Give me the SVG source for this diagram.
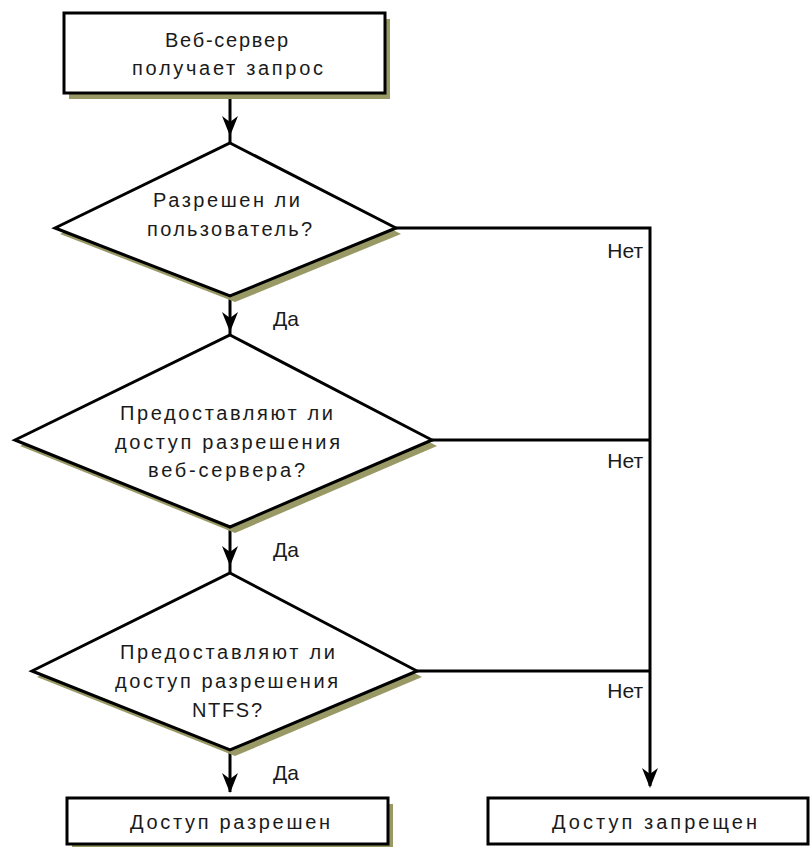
<svg xmlns="http://www.w3.org/2000/svg" xmlns:xlink="http://www.w3.org/1999/xlink" width="810" height="847" viewBox="0 0 810 847">
  <style>
    .shape { fill: #ffffff; stroke: #000000; stroke-width: 3; stroke-linejoin: miter; }
    .shadow { fill: #999966; stroke: none; }
    .line { fill: none; stroke: #000000; stroke-width: 3; }
    .head { fill: #000000; stroke: none; }
    .txt { font-family: "Liberation Sans", Arial, sans-serif; font-size: 20px; fill: #1a1a1a; }
    .lbl { font-family: "Liberation Sans", Arial, sans-serif; font-size: 21px; fill: #1a1a1a; }
    .no { text-anchor: end; }
  </style>
  <defs>
    <!-- barbed arrowhead, tip at origin, pointing down -->
    <path id="ah" class="head" d="M0,0 L-8,-20 L0,-14 L8,-20 Z"/>
  </defs>

  <rect width="810" height="847" fill="#ffffff"/>

  <g id="connectors">
    <line class="line" x1="230" y1="93" x2="230" y2="143"/>
    <line class="line" x1="230" y1="296" x2="230" y2="335"/>
    <line class="line" x1="230" y1="527" x2="230" y2="573"/>
    <line class="line" x1="230" y1="750" x2="230" y2="792"/>
    <polyline class="line" points="396,228 650,228 650,786"/>
    <line class="line" x1="432" y1="440" x2="650" y2="440"/>
    <line class="line" x1="417" y1="671" x2="650" y2="671"/>
    <use xlink:href="#ah" x="230" y="136"/>
    <use xlink:href="#ah" x="230" y="332"/>
    <use xlink:href="#ah" x="230" y="566"/>
    <use xlink:href="#ah" x="230" y="793"/>
    <use xlink:href="#ah" x="650" y="788"/>
    <text class="lbl" x="273" y="326">Да</text>
    <text class="lbl" x="273" y="557">Да</text>
    <text class="lbl" x="273" y="780">Да</text>
    <text class="lbl no" x="643" y="258">Нет</text>
    <text class="lbl no" x="643" y="468">Нет</text>
    <text class="lbl no" x="643" y="698">Нет</text>
  </g>

  <g id="start">
    <rect class="shadow" x="69" y="19" width="321" height="80"/>
    <rect class="shape" x="64" y="13" width="321" height="80"/>
    <text class="txt" x="165" y="47" textLength="123" lengthAdjust="spacing">Веб-сервер</text>
    <text class="txt" x="132" y="75" textLength="191" lengthAdjust="spacing">получает запрос</text>
  </g>

  <g id="check-user">
    <polygon class="shadow" points="235,149 401,234 235,302 60,234"/>
    <polygon class="shape" points="230,143 396,228 230,296 55,228"/>
    <text class="txt" x="153" y="207" textLength="147" lengthAdjust="spacing">Разрешен ли</text>
    <text class="txt" x="147" y="236" textLength="165" lengthAdjust="spacing">пользователь?</text>
  </g>

  <g id="check-web">
    <polygon class="shadow" points="235,341 437,446 235,533 20,446"/>
    <polygon class="shape" points="230,335 432,440 230,527 15,440"/>
    <text class="txt" x="120" y="420" textLength="213" lengthAdjust="spacing">Предоставляют ли</text>
    <text class="txt" x="115" y="449" textLength="225" lengthAdjust="spacing">доступ разрешения</text>
    <text class="txt" x="148" y="477" textLength="157" lengthAdjust="spacing">веб-сервера?</text>
  </g>

  <g id="check-ntfs">
    <polygon class="shadow" points="235,579 422,677 235,756 37,677"/>
    <polygon class="shape" points="230,573 417,671 230,750 32,671"/>
    <text class="txt" x="120" y="659" textLength="215" lengthAdjust="spacing">Предоставляют ли</text>
    <text class="txt" x="115" y="688" textLength="223" lengthAdjust="spacing">доступ разрешения</text>
    <text class="txt" x="192" y="717" textLength="70" lengthAdjust="spacing">NTFS?</text>
  </g>

  <g id="granted">
    <rect class="shadow" x="72" y="804" width="321" height="47"/>
    <rect class="shape" x="67" y="798" width="321" height="46"/>
    <text class="txt" x="130" y="829" textLength="200" lengthAdjust="spacing">Доступ разрешен</text>
  </g>

  <g id="denied">
    <rect class="shape" x="488" y="798" width="320" height="46"/>
    <text class="txt" x="552" y="829" textLength="205" lengthAdjust="spacing">Доступ запрещен</text>
  </g>
</svg>
